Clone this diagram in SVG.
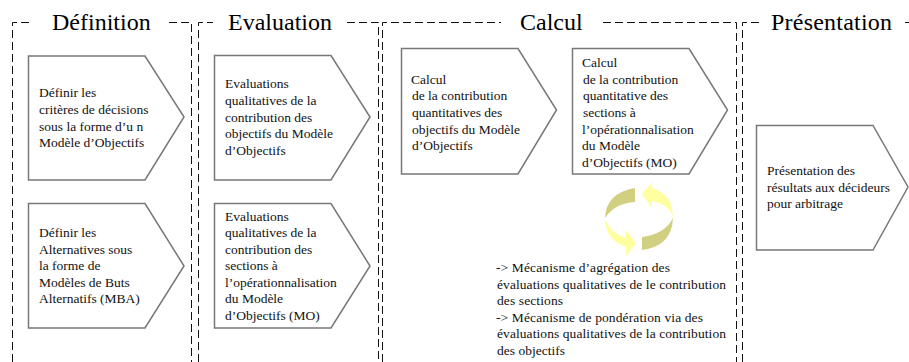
<svg xmlns="http://www.w3.org/2000/svg" width="909" height="362" viewBox="0 0 909 362">
<style>
.b{fill:none;stroke:#111;stroke-width:1;stroke-dasharray:8 4}
.s{fill:#fff;stroke:#777;stroke-width:1.5}
.h{font:24px "Liberation Serif",serif;fill:#000}
.t{font:13.5px "Liberation Serif",serif;fill:#111}
</style>
<rect width="909" height="362" fill="#fff"/>
<g id="connectors">
<path class="b" d="M12.500 362V22.500H33M169 22.500H191.500V362"/>
<path class="b" d="M198.500 362V22.500H213M347 22.500H378.500V362"/>
<path class="b" d="M382.500 362V22.500H501M603 22.500H736.500V362"/>
<path class="b" d="M742.500 362V22.500H760M905 22.500H909"/>
</g>
<g id="hdr">
<text class="h" x="52" y="30">Définition</text>
<text class="h" x="228" y="30">Evaluation</text>
<text class="h" x="520" y="30">Calcul</text>
<text class="h" x="771" y="30" textLength="121">Présentation</text>
</g>
<g id="n1"><path class="s" d="M28.500 56H145L184 117L145 180H28.500Z"/>
<text class="t"><tspan x="39" y="97">Définir les</tspan><tspan x="39" y="114">critères de décisions</tspan><tspan x="39" y="131">sous la forme d’u n</tspan><tspan x="39" y="147">Modèle d’Objectifs</tspan></text></g>
<g id="n2"><path class="s" d="M28.500 203.500H145L184 266L145 328H28.500Z"/>
<text class="t"><tspan x="39" y="237">Définir les</tspan><tspan x="39" y="254">Alternatives sous</tspan><tspan x="39" y="270">la forme de</tspan><tspan x="39" y="287">Modèles de Buts</tspan><tspan x="39" y="303">Alternatifs (MBA)</tspan></text></g>
<g id="n3"><path class="s" d="M214.500 55.500H331L370 117L331 180H214.500Z"/>
<text class="t"><tspan x="225" y="88">Evaluations</tspan><tspan x="225" y="105">qualitatives de la</tspan><tspan x="225" y="122">contribution des</tspan><tspan x="225" y="138">objectifs du Modèle</tspan><tspan x="225" y="155">d’Objectifs</tspan></text></g>
<g id="n4"><path class="s" d="M214.500 203.500H331L370 266L331 328H214.500Z"/>
<text class="t"><tspan x="225" y="221">Evaluations</tspan><tspan x="225" y="237">qualitatives de la</tspan><tspan x="225" y="254">contribution des</tspan><tspan x="225" y="270">sections à</tspan><tspan x="225" y="287">l’opérationnalisation</tspan><tspan x="225" y="303">du Modèle</tspan><tspan x="225" y="320">d’Objectifs (MO)</tspan></text></g>
<g id="n5"><path class="s" d="M401.500 48.500H518L556.500 110L518 174H401.500Z"/>
<text class="t"><tspan x="411" y="84">Calcul</tspan><tspan x="412" y="100">de la contribution</tspan><tspan x="412" y="117">quantitatives des</tspan><tspan x="412" y="134">objectifs du Modèle</tspan><tspan x="412" y="150">d’Objectifs</tspan></text></g>
<g id="n6"><path class="s" d="M572.500 48.500H689L727.500 110L689 174H572.500Z"/>
<text class="t"><tspan x="582" y="67">Calcul</tspan><tspan x="583" y="84">de la contribution</tspan><tspan x="583" y="100">quantitative des</tspan><tspan x="583" y="117">sections à</tspan><tspan x="582" y="134">l’opérationnalisation</tspan><tspan x="582" y="150">du Modèle</tspan><tspan x="582" y="167">d’Objectifs (MO)</tspan></text></g>
<g id="n7"><path class="s" d="M756.500 125.500H873L908 187L873 250H756.500Z"/>
<text class="t"><tspan x="767" y="175">Présentation des</tspan><tspan x="767" y="192">résultats aux décideurs</tspan><tspan x="767" y="208">pour arbitrage</tspan></text></g>
<g id="cycle">
<path fill="#ffffa0" d="M642 194L652 182V188Q673 194 673 218Q670 205 652 201V208Z"/>
<path fill="#d0d080" d="M635 188V202Q615 203 605 218Q606 193 635 188Z"/>
<path fill="#ffffa0" d="M636 243L626 256V247Q605 240 605 218Q610 233 626 238V230Z"/>
<path fill="#d0d080" d="M642 237Q665 234 673 218Q672 246 642 250Z"/>
</g>
<g id="note">
<text class="t" x="496" y="272" textLength="174">-&gt; Mécanisme d’agrégation des</text>
<text class="t" x="497" y="289" textLength="229">évaluations qualitatives de le contribution</text>
<text class="t" x="497" y="305" textLength="66">des sections</text>
<text class="t" x="496" y="322" textLength="207">-&gt; Mécanisme de pondération via des</text>
<text class="t" x="497" y="338" textLength="229">évaluations qualitatives de la contribution</text>
<text class="t" x="497" y="355" textLength="68">des objectifs</text>
</g>
</svg>
